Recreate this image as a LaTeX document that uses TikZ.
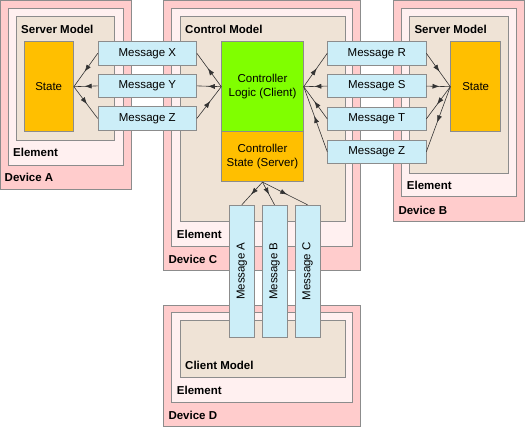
\documentclass[tikz,border=0pt]{standalone}
\usepackage{fontspec}
\setmainfont{Liberation Sans}
\usetikzlibrary{arrows.meta,decorations.markings}

\definecolor{devfill}{HTML}{FFCCCC}
\definecolor{elemfill}{HTML}{FFF0F0}
\definecolor{modfill}{HTML}{EFE3D6}
\definecolor{statefill}{HTML}{FFBF00}
\definecolor{logicfill}{HTML}{80FF00}
\definecolor{msgfill}{HTML}{CCEEF8}
\definecolor{edge}{HTML}{8C8C8C}

\newcommand{\diagfont}{\fontsize{11.5pt}{13.8pt}\selectfont}

\tikzset{
  box/.style={draw=edge, line width=0.8pt},
  msg/.style={box, fill=msgfill, inner sep=0pt, minimum width=98.3pt, minimum height=23.3pt},
  vmsg/.style={msg, rotate=90, minimum width=132pt, minimum height=25pt},
  tag/.style={anchor=west, inner sep=0pt, font=\diagfont\bfseries},
  midarrow/.style={draw=black!80, line width=0.6pt, postaction={decorate},
    decoration={markings, mark=at position 0.55 with {\arrow{Latex[length=7pt,width=5pt]}}}},
}

\begin{document}
\begin{tikzpicture}[x=1pt, y=-1pt, font=\diagfont]
\useasboundingbox (0,0) rectangle (525,427);

% devices
\draw[box, fill=devfill] (0.5,0.5) rectangle (131.7,189);
\draw[box, fill=devfill] (163.3,0.5) rectangle (360,270);
\draw[box, fill=devfill] (393.3,0.5) rectangle (524.5,221.7);
\draw[box, fill=devfill] (163.3,305) rectangle (360,426.5);
% elements
\draw[box, fill=elemfill] (8.3,8.3) rectangle (123.3,165);
\draw[box, fill=elemfill] (171.7,8.3) rectangle (352.7,246.7);
\draw[box, fill=elemfill] (401.7,8.3) rectangle (516.7,196.7);
\draw[box, fill=elemfill] (171.7,312.7) rectangle (352.7,402);
% models
\draw[box, fill=modfill] (16.7,16.7) rectangle (114.3,140);
\draw[box, fill=modfill] (180,16.7) rectangle (345,221.7);
\draw[box, fill=modfill] (409.3,16.7) rectangle (508.3,173.3);
\draw[box, fill=modfill] (180,320.7) rectangle (345,377.7);

% labels
\node[tag] (smodA) at (21,29) {Server Model};
\node[tag] (elemA) at (13,152) {Element};
\node[tag] (devA) at (4.5,177) {Device A};
\node[tag] (cmod) at (185,29) {Control Model};
\node[tag] (elemC) at (176.7,234) {Element};
\node[tag] (devC) at (168.3,259) {Device C};
\node[tag] (smodB) at (414.3,29) {Server Model};
\node[tag] (elemB) at (406.7,185) {Element};
\node[tag] (devB) at (398.3,210) {Device B};
\node[tag] (clmod) at (185,365.7) {Client Model};
\node[tag] (elemD) at (176.7,390.7) {Element};
\node[tag] (devD) at (168.3,415.7) {Device D};

% state and logic
\node[box, fill=statefill, minimum width=49.5pt, minimum height=90pt] (stA) at (48.7,86.7) {State};
\node[box, fill=statefill, minimum width=50pt, minimum height=90pt] (stB) at (475.7,86.7) {State};
\node[box, fill=logicfill, minimum width=81.6pt, minimum height=90pt, align=center] (logic) at (262.5,86.7) {Controller\\Logic (Client)};
\node[box, fill=statefill, minimum width=81.6pt, minimum height=50pt, align=center] (cstate) at (262.5,156.7) {Controller\\State (Server)};

% messages
\foreach \n/\t/\y in {mx/X/53.3, my/Y/85.9, mzl/Z/118.5}
    \node[msg] (\n) at (147.3,\y) {Message \t};
\foreach \n/\t/\y in {mr/R/53.3, ms/S/86.1, mt/T/118.9, mzr/Z/151.7}
    \node[msg] (\n) at (376.8,\y) {Message \t};
\foreach \n/\t/\x in {ma/A/241.8, mb/B/274.5, mc/C/307.5}
    \node[vmsg] (\n) at (\x,271.2) {Message \t};

% arrows
\draw[midarrow] (mx.west) -- (stA.east);
\draw[midarrow] (my.west) -- (stA.east);
\draw[midarrow] (stA.east) -- (mzl.west);
\draw[midarrow] (logic.west) -- (mx.east);
\draw[midarrow] (logic.west) -- (my.east);
\draw[midarrow] (mzl.east) -- (logic.west);
\draw[midarrow] (logic.east) -- (mr.west);
\draw[midarrow] (ms.west) -- (logic.east);
\draw[midarrow] (mt.west) -- (logic.east);
\draw[midarrow] (mzr.west) -- (logic.east);
\draw[midarrow] (mr.east) -- (stB.west);
\draw[midarrow] (ms.east) -- (stB.west);
\draw[midarrow] (stB.west) -- (mt.east);
\draw[midarrow] (stB.west) -- (mzr.east);
\foreach \n in {ma,mb,mc}
    \draw[midarrow] (cstate.south) -- (\n.east);
\end{tikzpicture}
\end{document}
